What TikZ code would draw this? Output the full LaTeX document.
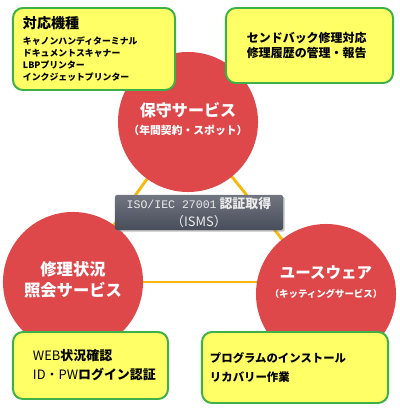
\documentclass[tikz,border=0pt]{standalone}
\usepackage{fontspec}
\setmainfont{Noto Sans CJK JP}
\newfontfamily\isofont{Liberation Mono}
\usetikzlibrary{positioning, shadows, backgrounds}
\definecolor{svcred}{RGB}{222,72,74}
\definecolor{memoyellow}{RGB}{255,255,102}
\definecolor{memogreen}{RGB}{62,176,72}
\definecolor{linkorange}{RGB}{246,184,10}
\definecolor{isotop}{RGB}{112,117,128}
\definecolor{isobottom}{RGB}{72,77,90}

\begin{document}
\begin{tikzpicture}[x=0.025cm, y=-0.025cm,
    svc/.style={circle, fill=svcred, minimum size=3.5cm, inner sep=0pt},
    svctext/.style={text=white, font=\bfseries, align=center, inner sep=0pt},
    memo/.style={rectangle, rounded corners=0.25cm, draw=memogreen, line width=1.4pt,
      fill=memoyellow, align=left, inner ysep=0pt, font=\bfseries},
    link/.style={draw=linkorange, line width=2pt}]
  \useasboundingbox (0,0) rectangle (400,408);

  % Three service circles
  \node[svc] (hoshu) at (188,122) {};
  \node[svc] (shokai) at (73,282) {};
  \node[svc] (yuse) at (326,294) {};

  % Triangle behind the circles
  \begin{scope}[on background layer]
    \draw[link] (hoshu.center) -- (shokai.center);
    \draw[link] (hoshu.center) -- (yuse.center);
    \draw[link] (shokai.center) -- (shokai.center -| yuse.center);
  \end{scope}

  % Circle texts
  \node[svctext, font=\bfseries\fontsize{11.4}{12.8}\selectfont] (hoshutxt) at (188,119)
    {保守サービス\\{\fontsize{7.7}{9}\selectfont （年間契約・スポット）}};
  \node[svctext, font=\bfseries\fontsize{11.6}{15}\selectfont] (shokaitxt) at (73,280)
    {修理状況\\照会サービス};
  \node[svctext, font=\bfseries\fontsize{11}{13.5}\selectfont] (yusetxt) at (326,282)
    {ユースウェア\\{\fontsize{6.7}{8}\selectfont （キッティングサービス）}};

  % ISMS label in the middle
  \node[rectangle, rounded corners=1.5pt, top color=isotop, bottom color=isobottom,
    drop shadow={shadow xshift=1.2pt, shadow yshift=-1.2pt, opacity=0.5},
    minimum width=4.2cm, minimum height=0.875cm, inner sep=0pt,
    text=white!92!black, align=center, font=\fontsize{9.2}{12.8}\selectfont] (isms) at (199,212.5)
    {{\isofont\fontsize{8.2}{12.8}\selectfont ISO/IEC 27001} \textbf{認証取得}\\（ISMS）};

  % Yellow memo boxes
  \node[memo, minimum height=2.05cm, text width=3.55cm, inner xsep=0.25cm,
    font=\bfseries\fontsize{6.3}{8.5}\selectfont] (kiki) at (94,49)
    {{\fontsize{10}{11}\selectfont 対応機種}\\[2.8pt]
     キャノンハンディターミナル\\ドキュメントスキャナー\\LBPプリンター\\インクジェットプリンター};
  \node[memo, minimum height=1.875cm, text width=3.125cm, inner xsep=0.525cm,
    font=\bfseries\fontsize{8.5}{11.3}\selectfont] (sendo) at (309.5,45.5)
    {センドバック修理対応\\修理履歴の管理・報告};
  \node[memo, minimum height=1.675cm, text width=2.875cm, inner xsep=0.5cm,
    font=\bfseries\fontsize{9.2}{13.5}\selectfont] (web) at (90.5,365.5)
    {{\mdseries WEB}状況確認\\{\mdseries ID・PW}ログイン認証};
  \node[memo, minimum height=1.775cm, text width=4.25cm, inner xsep=0.2cm,
    font=\bfseries\fontsize{8.1}{13.5}\selectfont] (kitting) at (295,367.5)
    {プログラムのインストール\\リカバリー作業};
\end{tikzpicture}
\end{document}
